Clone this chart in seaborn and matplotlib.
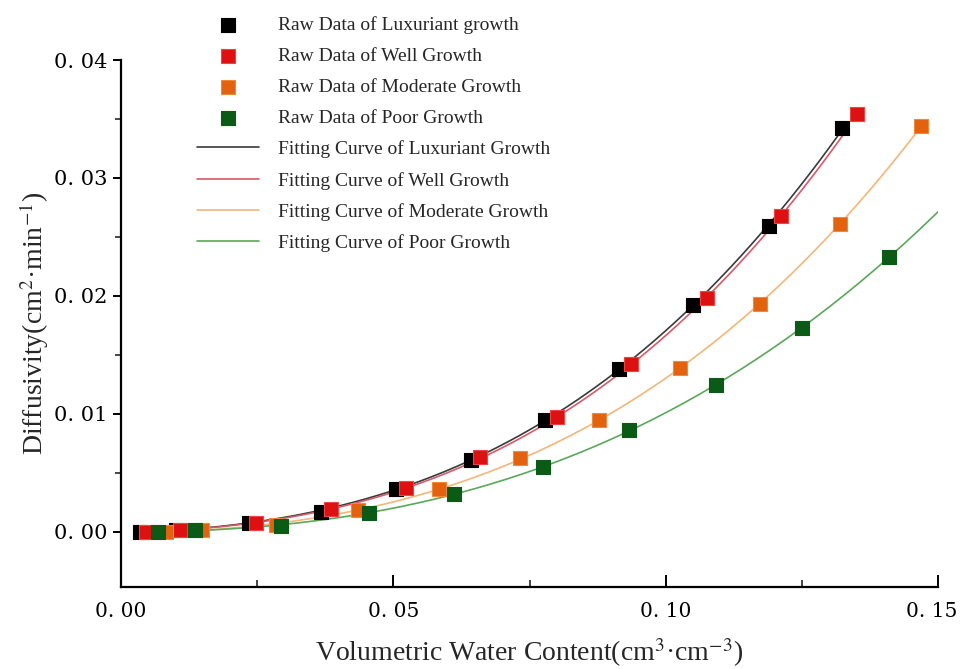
import numpy as np
import pandas as pd
import matplotlib
matplotlib.use("Agg")
import matplotlib.pyplot as plt
from matplotlib.ticker import MultipleLocator, FuncFormatter
from matplotlib.transforms import ScaledTranslation
import seaborn as sns

# ---- data ----
lux_x = [0.0035, 0.0101, 0.0235, 0.0367, 0.0504, 0.0642, 0.0779, 0.0915, 0.1051, 0.1190, 0.1324]
lux_y = [0.0000, 0.0001, 0.0007, 0.0017, 0.0036, 0.0061, 0.0095, 0.0138, 0.0192, 0.0259, 0.0342]
well_x = [0.0046, 0.0108, 0.0248, 0.0385, 0.0523, 0.0660, 0.0800, 0.0937, 0.1075, 0.1212, 0.1352]
well_y = [0.0000, 0.0001, 0.0007, 0.0019, 0.0037, 0.0063, 0.0097, 0.0142, 0.0198, 0.0268, 0.0354]
mod_x = [0.0083, 0.0148, 0.0284, 0.0435, 0.0583, 0.0732, 0.0878, 0.1027, 0.1174, 0.1320, 0.1469]
mod_y = [0.0000, 0.0001, 0.0006, 0.0018, 0.0036, 0.0062, 0.0095, 0.0139, 0.0193, 0.0261, 0.0344]
poor_x = [0.0068, 0.0136, 0.0293, 0.0455, 0.0612, 0.0774, 0.0932, 0.1093, 0.1251, 0.1410]
poor_y = [0.0000, 0.0001, 0.0005, 0.0016, 0.0032, 0.0055, 0.0086, 0.0124, 0.0173, 0.0233]

raw_labels = ["Raw Data of Luxuriant growth", "Raw Data of Well Growth",
              "Raw Data of Moderate Growth", "Raw Data of Poor Growth"]
fit_labels = ["Fitting Curve of Luxuriant Growth", "Fitting Curve of Well Growth",
              "Fitting Curve of Moderate Growth", "Fitting Curve of Poor Growth"]
# range over which each fitted curve is drawn
fit_start = [0.015, 0.015, 0.015, 0.015]
fit_end = [0.1330, 0.1330, 0.1469, 0.1500]

marker_colors = ["#000000", "#dd1111", "#e2620f", "#0b5a16"]
marker_edges = ["#000000", "#ee4444", "#f08a3a", "#0b5a16"]
line_colors = ["#3a3a3a", "#d65a6a", "#f4b679", "#5aa85a"]

xs = [lux_x, well_x, mod_x, poor_x]
ys = [lux_y, well_y, mod_y, poor_y]

sns.set_theme(style="white")
plt.rcParams["font.family"] = ["Liberation Serif", "DejaVu Serif"]
plt.rcParams["mathtext.fontset"] = "stix"

fig = plt.figure(figsize=(9.61, 6.69), dpi=100)
ax = fig.add_axes([121 / 961, 1 - 587 / 669, (938 - 121) / 961, (587 - 60) / 669])

for i in range(4):
    df = pd.DataFrame({"x": xs[i], "y": ys[i]})
    sns.scatterplot(data=df, x="x", y="y", ax=ax, marker="s", s=105,
                    color=marker_colors[i], edgecolor=marker_edges[i], linewidth=0.8,
                    zorder=3, label=raw_labels[i])

for i in range(4):
    coef = np.polyfit(xs[i], ys[i], 3)
    gx = np.linspace(fit_start[i], fit_end[i], 200)
    gy = np.polyval(coef, gx)
    dfl = pd.DataFrame({"x": gx, "y": gy})
    sns.lineplot(data=dfl, x="x", y="y", ax=ax, color=line_colors[i], linewidth=1.2,
                 zorder=2, label=fit_labels[i])

ax.set_xlim(0, 0.15)
ax.set_ylim(-0.0047, 0.04)

for s in ["top", "right"]:
    ax.spines[s].set_visible(False)
for s in ["left", "bottom"]:
    ax.spines[s].set_color("black")
    ax.spines[s].set_linewidth(1.6)

ax.xaxis.set_major_locator(MultipleLocator(0.05))
ax.xaxis.set_minor_locator(MultipleLocator(0.025))
ax.yaxis.set_major_locator(MultipleLocator(0.01))
ax.yaxis.set_minor_locator(MultipleLocator(0.005))
fmt = FuncFormatter(lambda v, p: ("%.2f" % v).replace(".", ". "))
ax.xaxis.set_major_formatter(fmt)
ax.yaxis.set_major_formatter(fmt)

ax.tick_params(axis="x", which="major", direction="in", length=9, width=1.4,
               pad=11, labelsize=14.5, colors="black", bottom=True)
ax.tick_params(axis="x", which="minor", direction="in", length=5, width=1.2, bottom=True)
ax.tick_params(axis="y", which="major", direction="out", length=6, width=1.4,
               pad=4, labelsize=15, colors="black", left=True)
ax.tick_params(axis="y", which="minor", direction="out", length=4, width=1.2, left=True)
for lab in ax.get_xticklabels() + ax.get_yticklabels():
    lab.set_fontfamily(["DejaVu Serif"])

# nudge the right-most x tick label so it stays inside the canvas
last_tick = ax.xaxis.get_major_ticks()[-1]
for t in ax.xaxis.get_major_ticks():
    if abs(t.get_loc() - 0.15) < 1e-9:
        last_tick = t
last_tick.label1.set_transform(last_tick.label1.get_transform()
                               + ScaledTranslation(-6 / 100, 0, fig.dpi_scale_trans))

ax.set_xlabel(r"Volumetric Water Content(cm$^{3}$·cm$^{-3}$)", fontsize=20, labelpad=11)
ax.set_ylabel(r"Diffusivity(cm$^{2}$·min$^{-1}$)", fontsize=20, labelpad=2)

handles, labels = ax.get_legend_handles_labels()
ax.legend(handles, labels, loc="upper left", bbox_to_anchor=(197 / 961, 1 - 16 / 669),
          bbox_transform=fig.transFigure, frameon=False, fontsize=14,
          handlelength=3.2, handletextpad=0.95, labelspacing=0.69,
          borderpad=0, borderaxespad=0, markerscale=1.0)

fig.savefig("out.png", dpi=100)
